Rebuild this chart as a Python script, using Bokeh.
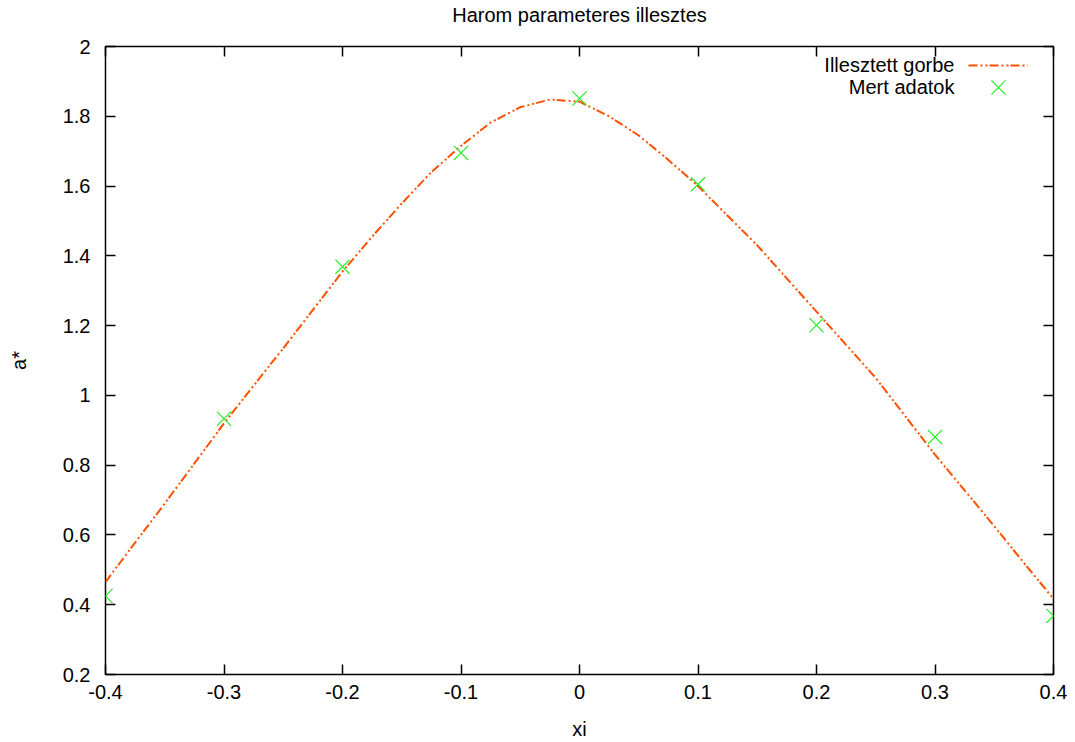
from bokeh.plotting import figure
from bokeh.models import (Range1d, FixedTicker, LinearAxis, Legend, LegendItem, Label, ColumnDataSource)
from bokeh.core.properties import value
from bokeh.embed import file_html
from bokeh.resources import INLINE

# ---- data ----
x_fit = [-0.4, -0.375, -0.35, -0.325, -0.3, -0.275, -0.25, -0.225, -0.2, -0.175,
         -0.15, -0.125, -0.1, -0.075, -0.05, -0.025, 0.0, 0.025, 0.05, 0.075,
         0.1, 0.125, 0.15, 0.175, 0.2, 0.225, 0.25, 0.275, 0.3, 0.325, 0.35, 0.375, 0.4]
y_fit = [0.465, 0.578, 0.69, 0.805, 0.92, 1.028, 1.135, 1.245, 1.355, 1.455,
         1.55, 1.64, 1.715, 1.782, 1.826, 1.848, 1.842, 1.80, 1.745, 1.675,
         1.60, 1.515, 1.43, 1.335, 1.24, 1.145, 1.05, 0.94, 0.83, 0.728, 0.625, 0.52, 0.417]

x_meas = [-0.4, -0.3, -0.2, -0.1, 0.0, 0.1, 0.2, 0.3, 0.4]
y_meas = [0.425, 0.933, 1.369, 1.695, 1.851, 1.605, 1.201, 0.881, 0.368]

x_ticks = [-0.4, -0.3, -0.2, -0.1, 0, 0.1, 0.2, 0.3, 0.4]
x_tick_labels = ["-0.4", "-0.3", "-0.2", "-0.1", "0", "0.1", "0.2", "0.3", "0.4"]
y_ticks = [0.2, 0.4, 0.6, 0.8, 1, 1.2, 1.4, 1.6, 1.8, 2]
y_tick_labels = ["0.2", "0.4", "0.6", "0.8", "1", "1.2", "1.4", "1.6", "1.8", "2"]

title_text = "Harom parameteres illesztes"
x_label = "xi"
y_label = "a*"
series_names = ["Illesztett gorbe", "Mert adatok"]

FONT = "Liberation Sans"
FS = "20px"
CURVE_COLOR = "#ff5000"
MARK_COLOR = "#22ee22"

p = figure(width=1075, height=742, output_backend="svg", toolbar_location=None,
           x_range=Range1d(-0.4, 0.4), y_range=Range1d(0.2, 2.0),
           min_border_left=105, min_border_right=22, min_border_top=46, min_border_bottom=66,
           x_axis_label=x_label, y_axis_label=y_label, title_location=None)

p.xgrid.visible = False
p.ygrid.visible = False
p.outline_line_color = "black"
p.outline_line_width = 1.5
p.background_fill_color = "white"
p.border_fill_color = "white"

for ax in p.xaxis:
    ax.ticker = FixedTicker(ticks=x_ticks)
    ax.major_label_overrides = dict(zip(x_ticks, x_tick_labels))
    ax.major_label_standoff = 10
    ax.axis_label_standoff = 16
for ax in p.yaxis:
    ax.ticker = FixedTicker(ticks=y_ticks)
    ax.major_label_overrides = dict(zip(y_ticks, y_tick_labels))
    ax.major_label_standoff = 15
    ax.axis_label_standoff = 30

for ax in list(p.xaxis) + list(p.yaxis):
    ax.major_tick_in = 10
    ax.major_tick_out = 0
    ax.minor_tick_line_color = None
    ax.axis_line_color = None
    ax.major_tick_line_width = 1.5
    ax.major_tick_line_color = "black"
    ax.major_label_text_font = FONT
    ax.major_label_text_font_size = FS
    ax.major_label_text_color = "black"
    ax.axis_label_text_font = FONT
    ax.axis_label_text_font_size = FS
    ax.axis_label_text_font_style = "normal"
    ax.axis_label_text_color = "black"

# mirror ticks on top (carrying the title as its label) and right
top_ax = LinearAxis(ticker=FixedTicker(ticks=[], minor_ticks=x_ticks),
                    minor_tick_in=10, minor_tick_out=0, minor_tick_line_width=1.5,
                    minor_tick_line_color="black", major_tick_line_color=None,
                    axis_line_color=None, major_label_standoff=0,
                    axis_label=title_text, axis_label_standoff=21,
                    axis_label_text_font=FONT, axis_label_text_font_size=FS,
                    axis_label_text_font_style="normal", axis_label_text_color="black")
right_ax = LinearAxis(ticker=FixedTicker(ticks=[], minor_ticks=y_ticks),
                      minor_tick_in=10, minor_tick_out=0, minor_tick_line_width=1.5,
                      minor_tick_line_color="black", major_tick_line_color=None,
                      axis_line_color=None, major_label_standoff=0)
p.add_layout(top_ax, "above")
p.add_layout(right_ax, "right")

src_fit = ColumnDataSource(dict(x=x_fit, y=y_fit))
src_meas = ColumnDataSource(dict(x=x_meas, y=y_meas))

r_line = p.line("x", "y", source=src_fit, line_color=CURVE_COLOR, line_width=2,
                line_dash="9 3 2 3 2 2")
r_mark = p.scatter("x", "y", source=src_meas, marker="x", size=20,
                   line_color=MARK_COLOR, line_width=1.2)

legend_line = Legend(items=[LegendItem(label=value(" "), renderers=[r_line])],
                     location="top_right", margin=7, padding=0, spacing=0,
                     glyph_width=60, glyph_height=24, label_width=18, label_standoff=0,
                     label_text_font=FONT, label_text_font_size=FS,
                     border_line_color=None, background_fill_alpha=0)
legend_mark = Legend(items=[LegendItem(label=value(" "), renderers=[r_mark])],
                     location="top_right", margin=16, padding=0, spacing=0,
                     glyph_width=60, glyph_height=50, label_width=9, label_standoff=0,
                     label_text_font=FONT, label_text_font_size=FS,
                     border_line_color=None, background_fill_alpha=0)
p.add_layout(legend_line)
p.add_layout(legend_mark)

# legend texts, right-aligned to the left of the samples (gnuplot style)
leg_text_x = 0.3164
leg_text_y = [1.9457, 1.883]
for name, ly in zip(series_names, leg_text_y):
    p.add_layout(Label(x=leg_text_x, y=ly, text=name, text_align="right",
                       text_baseline="middle", text_font=FONT, text_font_size=FS,
                       text_color="black"))

open("out.html", "w").write(file_html(p, INLINE))
